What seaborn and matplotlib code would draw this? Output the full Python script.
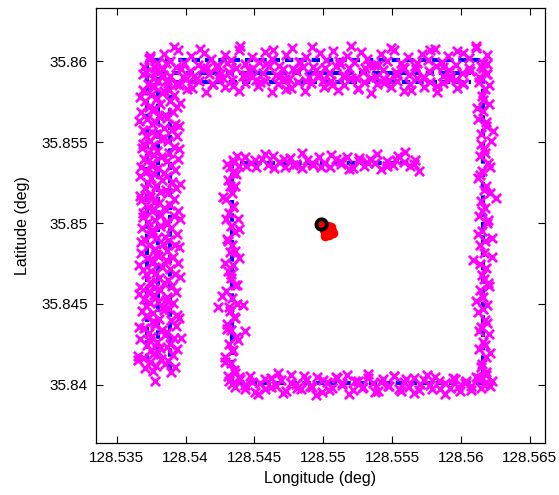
import matplotlib
matplotlib.use("Agg")
import matplotlib.pyplot as plt
import seaborn as sns
import pandas as pd

# ---------------- data ----------------
# reference (true) track, three laps
lap1_lon = [128.5372, 128.5372, 128.5616, 128.5616, 128.5434, 128.5434, 128.5567]
lap1_lat = [35.8414, 35.8601, 35.8601, 35.8401, 35.8401, 35.8537, 35.8537]
lap2_lon = [128.5380, 128.5380, 128.5607]
lap2_lat = [35.8420, 35.8593, 35.8593]
lap3_lon = [128.5389, 128.5389, 128.5607]
lap3_lat = [35.8409, 35.8587, 35.8587]

# estimated positions (magenta x)
left1_lat = [35.84102, 35.84141, 35.84168, 35.84215, 35.84247, 35.84281, 35.84322, 35.84349, 35.84395, 35.84428,
             35.84457, 35.84503, 35.84531, 35.84574, 35.84606, 35.84638, 35.84684, 35.84712, 35.84751, 35.84787,
             35.84815, 35.84862, 35.84893, 35.84925, 35.84969, 35.85004, 35.85037, 35.85073, 35.85109, 35.85142,
             35.85181, 35.85216, 35.85248, 35.85292, 35.85323, 35.85357, 35.85398, 35.85431, 35.85467, 35.85505,
             35.85538, 35.85574, 35.85612, 35.85643, 35.85686, 35.85718, 35.85752, 35.85791, 35.85824, 35.85863,
             35.85897, 35.85934, 35.85968, 35.86012]
left1_lon = [128.53706, 128.53741, 128.53689, 128.53752, 128.53718, 128.53671, 128.53733, 128.53698, 128.53762, 128.53715,
             128.53684, 128.53745, 128.53702, 128.53728, 128.53667, 128.53739, 128.53711, 128.53694, 128.53756, 128.53722,
             128.53679, 128.53736, 128.53709, 128.53748, 128.53687, 128.53725, 128.53693, 128.53758, 128.53714, 128.53676,
             128.53741, 128.53703, 128.53731, 128.53668, 128.53719, 128.53751, 128.53697, 128.53726, 128.53682, 128.53744,
             128.53712, 128.53689, 128.53757, 128.53721, 128.53674, 128.53738, 128.53705, 128.53746, 128.53692, 128.53729,
             128.53761, 128.53716, 128.53699, 128.53734]
left2_lat = [35.84119, 35.84157, 35.84193, 35.84226, 35.84264, 35.84297, 35.84338, 35.84371, 35.84404, 35.84446,
             35.84478, 35.84512, 35.84553, 35.84586, 35.84621, 35.84659, 35.84692, 35.84731, 35.84765, 35.84798,
             35.84839, 35.84872, 35.84907, 35.84946, 35.84979, 35.85016, 35.85052, 35.85087, 35.85124, 35.85159,
             35.85193, 35.85232, 35.85265, 35.85303, 35.85338, 35.85374, 35.85411, 35.85446, 35.85482, 35.85519,
             35.85553, 35.85591, 35.85627, 35.85662, 35.85699, 35.85734, 35.85771, 35.85806, 35.85842, 35.85879,
             35.85913, 35.85941]
left2_lon = [128.53784, 128.53821, 128.53767, 128.53815, 128.53792, 128.53748, 128.53826, 128.53779, 128.53805, 128.53761,
             128.53834, 128.53797, 128.53772, 128.53818, 128.53751, 128.53809, 128.53786, 128.53829, 128.53763, 128.53801,
             128.53775, 128.53838, 128.53794, 128.53756, 128.53812, 128.53781, 128.53823, 128.53769, 128.53807, 128.53745,
             128.53816, 128.53789, 128.53831, 128.53773, 128.53802, 128.53758, 128.53825, 128.53796, 128.53766, 128.53819,
             128.53783, 128.53841, 128.53777, 128.53808, 128.53754, 128.53813, 128.53791, 128.53827, 128.53768, 128.53803,
             128.53834, 128.53786]
left3_lat = [35.84076, 35.84112, 35.84148, 35.84183, 35.84221, 35.84254, 35.84292, 35.84327, 35.84361, 35.84399,
             35.84434, 35.84468, 35.84507, 35.84541, 35.84576, 35.84613, 35.84648, 35.84684, 35.84719, 35.84756,
             35.84791, 35.84827, 35.84862, 35.84898, 35.84934, 35.84969, 35.85006, 35.85041, 35.85077, 35.85112,
             35.85149, 35.85184, 35.85219, 35.85256, 35.85291, 35.85327, 35.85362, 35.85399, 35.85434, 35.85469,
             35.85506, 35.85541, 35.85577, 35.85612, 35.85648, 35.85684, 35.85719, 35.85754, 35.85791, 35.85826,
             35.85862, 35.84022, 35.84156, 35.84290]
left3_lon = [128.53891, 128.53924, 128.53872, 128.53908, 128.53936, 128.53884, 128.53917, 128.53863, 128.53929, 128.53897,
             128.53941, 128.53879, 128.53912, 128.53868, 128.53933, 128.53902, 128.53875, 128.53926, 128.53889, 128.53947,
             128.53906, 128.53869, 128.53921, 128.53883, 128.53938, 128.53898, 128.53861, 128.53915, 128.53943, 128.53887,
             128.53919, 128.53874, 128.53931, 128.53903, 128.53866, 128.53927, 128.53892, 128.53945, 128.53881, 128.53913,
             128.53871, 128.53935, 128.53899, 128.53923, 128.53864, 128.53909, 128.53939, 128.53885, 128.53918, 128.53877,
             128.53929, 128.53776, 128.53653, 128.53965]
left4_lat = [35.84085, 35.84131, 35.84177, 35.84204, 35.84236, 35.84272, 35.84308, 35.84357, 35.84383, 35.84412,
             35.84465, 35.84489, 35.84522, 35.84561, 35.84597, 35.84627, 35.84669, 35.84703, 35.84742, 35.84773,
             35.84807, 35.84851, 35.84884, 35.84914, 35.84957, 35.84992, 35.85024, 35.85061, 35.85096, 35.85131,
             35.85168, 35.85205, 35.85239, 35.85276, 35.85311, 35.85346, 35.85386, 35.85421, 35.85455, 35.85492,
             35.85527, 35.85563, 35.85598, 35.85633, 35.85671, 35.85706, 35.85742, 35.85779, 35.85814, 35.85851,
             35.85886, 35.85921, 35.85957, 35.85992, 35.86031]
left4_lon = [128.53765, 128.53852, 128.53655, 128.53798, 128.53868, 128.53741, 128.53852, 128.53664, 128.53779, 128.53951,
             128.53843, 128.53712, 128.53857, 128.53665, 128.53768, 128.53846, 128.53958, 128.53752, 128.53661, 128.53859,
             128.53787, 128.53949, 128.53675, 128.53849, 128.53756, 128.53862, 128.53958, 128.53694, 128.53843, 128.53772,
             128.53669, 128.53855, 128.53962, 128.53748, 128.53841, 128.53679, 128.53863, 128.53771, 128.53954, 128.53689,
             128.53847, 128.53758, 128.53951, 128.53663, 128.53852, 128.53778, 128.53957, 128.53671, 128.53846, 128.53763,
             128.53866, 128.53691, 128.53782, 128.53855, 128.53742]
top1_lon = [128.53745, 128.53792, 128.53841, 128.53889, 128.53942, 128.53988, 128.54037, 128.54089, 128.54136, 128.54185,
            128.54238, 128.54284, 128.54333, 128.54386, 128.54432, 128.54481, 128.54534, 128.54579, 128.54628, 128.54682,
            128.54727, 128.54776, 128.54829, 128.54874, 128.54925, 128.54977, 128.55022, 128.55073, 128.55124, 128.55169,
            128.55221, 128.55273, 128.55318, 128.55369, 128.55421, 128.55465, 128.55517, 128.55568, 128.55614, 128.55665,
            128.55716, 128.55761, 128.55813, 128.55864, 128.55909, 128.55961, 128.56012, 128.56057, 128.56109, 128.56158,
            128.56192]
top1_lat = [35.86021, 35.85987, 35.86046, 35.86003, 35.86068, 35.85992, 35.86035, 35.85978, 35.86052, 35.86014,
            35.85969, 35.86041, 35.86007, 35.86073, 35.85984, 35.86028, 35.85995, 35.86057, 35.86012, 35.85973,
            35.86039, 35.86081, 35.85998, 35.86024, 35.85966, 35.86049, 35.86009, 35.86063, 35.85981, 35.86032,
            35.85994, 35.86058, 35.86016, 35.85975, 35.86044, 35.86005, 35.86069, 35.85989, 35.86027, 35.85971,
            35.86048, 35.86011, 35.86076, 35.85996, 35.86034, 35.85979, 35.86053, 35.86019, 35.86084, 35.85991,
            35.86038]
top2_lon = [128.53836, 128.53884, 128.53933, 128.53981, 128.54029, 128.54078, 128.54126, 128.54174, 128.54223, 128.54271,
            128.54319, 128.54368, 128.54416, 128.54464, 128.54513, 128.54561, 128.54609, 128.54658, 128.54706, 128.54754,
            128.54803, 128.54851, 128.54899, 128.54948, 128.54996, 128.55044, 128.55093, 128.55141, 128.55189, 128.55238,
            128.55286, 128.55334, 128.55383, 128.55431, 128.55479, 128.55528, 128.55576, 128.55624, 128.55673, 128.55721,
            128.55769, 128.55818, 128.55866, 128.55914, 128.55963, 128.56011, 128.56059]
top2_lat = [35.85951, 35.85912, 35.85967, 35.85903, 35.85942, 35.85889, 35.85958, 35.85921, 35.85974, 35.85897,
            35.85936, 35.85962, 35.85908, 35.85947, 35.85884, 35.85929, 35.85971, 35.85915, 35.85953, 35.85893,
            35.85938, 35.85966, 35.85902, 35.85944, 35.85881, 35.85927, 35.85969, 35.85911, 35.85956, 35.85895,
            35.85934, 35.85976, 35.85906, 35.85949, 35.85887, 35.85932, 35.85964, 35.85918, 35.85955, 35.85899,
            35.85941, 35.85972, 35.85909, 35.85946, 35.85886, 35.85925, 35.85961]
top3_lon = [128.53954, 128.54003, 128.54049, 128.54097, 128.54146, 128.54194, 128.54241, 128.54289, 128.54338, 128.54386,
            128.54433, 128.54481, 128.54529, 128.54578, 128.54625, 128.54673, 128.54721, 128.54769, 128.54817, 128.54865,
            128.54913, 128.54961, 128.55009, 128.55057, 128.55105, 128.55153, 128.55201, 128.55249, 128.55297, 128.55345,
            128.55393, 128.55441, 128.55489, 128.55537, 128.55585, 128.55633, 128.55681, 128.55729, 128.55777, 128.55825,
            128.55873, 128.55921, 128.55969, 128.56017]
top3_lat = [35.85851, 35.85893, 35.85834, 35.85876, 35.85812, 35.85862, 35.85899, 35.85841, 35.85883, 35.85819,
            35.85867, 35.85906, 35.85846, 35.85879, 35.85808, 35.85858, 35.85891, 35.85837, 35.85874, 35.85815,
            35.85864, 35.85902, 35.85843, 35.85881, 35.85821, 35.85856, 35.85896, 35.85832, 35.85871, 35.85806,
            35.85861, 35.85889, 35.85839, 35.85877, 35.85817, 35.85859, 35.85898, 35.85844, 35.85873, 35.85811,
            35.85866, 35.85894, 35.85836, 35.85869]
top4_lon = [128.53781, 128.53826, 128.53874, 128.53917, 128.53965, 128.54012, 128.54061, 128.54108, 128.54157, 128.54203,
            128.54252, 128.54299, 128.54347, 128.54395, 128.54442, 128.54491, 128.54538, 128.54586, 128.54633, 128.54681,
            128.54729, 128.54777, 128.54824, 128.54872, 128.54919, 128.54967, 128.55015, 128.55062, 128.55111, 128.55158,
            128.55205, 128.55253, 128.55301, 128.55348, 128.55396, 128.55444, 128.55491, 128.55539, 128.55587, 128.55634,
            128.55682, 128.55729, 128.55777, 128.55825, 128.55873, 128.55921, 128.55968, 128.56016, 128.56063, 128.56111,
            128.56148, 128.56183]
top4_lat = [35.85968, 35.85902, 35.85869, 35.86088, 35.85951, 35.85827, 35.85912, 35.86079, 35.85958, 35.85861,
            35.85924, 35.85992, 35.85847, 35.86093, 35.85917, 35.85961, 35.85872, 35.85983, 35.86072, 35.85904,
            35.85829, 35.85951, 35.85994, 35.85876, 35.86089, 35.85919, 35.85962, 35.85852, 35.86001, 35.85907,
            35.86095, 35.85836, 35.85956, 35.85897, 35.85975, 35.85864, 35.86082, 35.85916, 35.85959, 35.85824,
            35.85988, 35.85903, 35.86071, 35.85849, 35.85966, 35.85912, 35.86064, 35.85857, 35.85943, 35.86098,
            35.85972, 35.85919]
right_lat = [35.85962, 35.85921, 35.85874, 35.85829, 35.85783, 35.85736, 35.85692, 35.85645, 35.85598, 35.85553,
             35.85506, 35.85461, 35.85414, 35.85369, 35.85322, 35.85276, 35.85231, 35.85184, 35.85139, 35.85092,
             35.85046, 35.85001, 35.84954, 35.84908, 35.84863, 35.84816, 35.84771, 35.84724, 35.84679, 35.84632,
             35.84586, 35.84541, 35.84494, 35.84448, 35.84403, 35.84356, 35.84311, 35.84264, 35.84219, 35.84172,
             35.84126, 35.84081, 35.84042]
right_lon = [128.56161, 128.56188, 128.56132, 128.56176, 128.56149, 128.56202, 128.56158, 128.56127, 128.56183, 128.56144,
             128.56219, 128.56166, 128.56138, 128.56193, 128.56153, 128.56121, 128.56179, 128.56208, 128.56147, 128.56172,
             128.56129, 128.56186, 128.56155, 128.56224, 128.56141, 128.56169, 128.56084, 128.56181, 128.56151, 128.56197,
             128.56136, 128.56163, 128.56189, 128.56123, 128.56174, 128.56148, 128.56204, 128.56157, 128.56131, 128.56178,
             128.56152, 128.56185, 128.56143]
right2_lat = [35.85983, 35.85902, 35.85851, 35.85762, 35.85714, 35.85628, 35.85571, 35.85489, 35.85436, 35.85347,
              35.85298, 35.85207, 35.85158, 35.85073, 35.85018, 35.84931, 35.84887, 35.84793, 35.84748, 35.84657,
              35.84609, 35.84521, 35.84469, 35.84382, 35.84331, 35.84243, 35.84194, 35.84108, 35.84061, 35.84025]
right2_lon = [128.56192, 128.56128, 128.56207, 128.56159, 128.56118, 128.56183, 128.56235, 128.56142, 128.56176, 128.56211,
              128.56135, 128.56168, 128.56252, 128.56149, 128.56195, 128.56121, 128.56173, 128.56226, 128.56138, 128.56164,
              128.56201, 128.56112, 128.56157, 128.56189, 128.56133, 128.56171, 128.56214, 128.56145, 128.56181, 128.56228]
bot_lon = [128.54318, 128.54357, 128.54392, 128.54431, 128.54468, 128.54504, 128.54543, 128.54579, 128.54617, 128.54654,
           128.54691, 128.54729, 128.54766, 128.54803, 128.54841, 128.54878, 128.54915, 128.54953, 128.54989, 128.55027,
           128.55064, 128.55101, 128.55139, 128.55176, 128.55213, 128.55251, 128.55288, 128.55325, 128.55363, 128.55399,
           128.55437, 128.55474, 128.55511, 128.55549, 128.55586, 128.55623, 128.55661, 128.55697, 128.55735, 128.55772,
           128.55809, 128.55847, 128.55884, 128.55921, 128.55959, 128.55995, 128.56033, 128.56071, 128.56108, 128.56146,
           128.56183, 128.56211]
bot_lat = [35.84021, 35.83984, 35.84037, 35.83996, 35.84052, 35.83958, 35.84012, 35.83977, 35.84043, 35.83991,
           35.84027, 35.83962, 35.84058, 35.84003, 35.83971, 35.84031, 35.83989, 35.84047, 35.83954, 35.84016,
           35.83981, 35.84039, 35.83998, 35.84061, 35.83967, 35.84024, 35.83986, 35.84044, 35.84008, 35.83961,
           35.84033, 35.83993, 35.84054, 35.83975, 35.84019, 35.83988, 35.84041, 35.83965, 35.84028, 35.83999,
           35.84049, 35.83972, 35.84014, 35.83983, 35.84036, 35.83959, 35.84025, 35.83994, 35.84046, 35.83978,
           35.84018, 35.83992]
bot2_lon = [128.54338, 128.54386, 128.54429, 128.54481, 128.54523, 128.54575, 128.54618, 128.54669, 128.54711, 128.54764,
            128.54806, 128.54858, 128.54901, 128.54947, 128.54998, 128.55041, 128.55093, 128.55135, 128.55187, 128.55229,
            128.55281, 128.55323, 128.55374, 128.55416, 128.55468, 128.55511, 128.55562, 128.55604, 128.55656, 128.55699,
            128.55751, 128.55793, 128.55844, 128.55887, 128.55939, 128.55981, 128.56032, 128.56074, 128.56126, 128.56169]
bot2_lat = [35.84003, 35.84048, 35.83972, 35.84019, 35.83941, 35.84036, 35.83987, 35.84071, 35.83951, 35.84012,
            35.83979, 35.84055, 35.83994, 35.83938, 35.84029, 35.83966, 35.84046, 35.84009, 35.83945, 35.84024,
            35.83983, 35.84068, 35.83957, 35.84015, 35.83991, 35.84052, 35.83963, 35.84034, 35.83948, 35.84006,
            35.84059, 35.83976, 35.84021, 35.83942, 35.84039, 35.83985, 35.84011, 35.83969, 35.84044, 35.83997]
inl_lat = [35.84052, 35.84091, 35.84133, 35.84172, 35.84214, 35.84253, 35.84294, 35.84336, 35.84375, 35.84417,
           35.84456, 35.84498, 35.84537, 35.84579, 35.84618, 35.84659, 35.84701, 35.84739, 35.84781, 35.84822,
           35.84862, 35.84903, 35.84944, 35.84984, 35.85026, 35.85065, 35.85107, 35.85146, 35.85188, 35.85227,
           35.85269, 35.85308, 35.85349, 35.85378, 35.84478, 35.84330, 35.84496]
inl_lon = [128.54311, 128.54353, 128.54327, 128.54286, 128.54344, 128.54319, 128.54367, 128.54333, 128.54302, 128.54350,
           128.54324, 128.54377, 128.54337, 128.54296, 128.54359, 128.54330, 128.54312, 128.54346, 128.54391, 128.54323,
           128.54341, 128.54304, 128.54356, 128.54332, 128.54379, 128.54317, 128.54348, 128.54293, 128.54336, 128.54362,
           128.54308, 128.54343, 128.54321, 128.54354, 128.54234, 128.54430, 128.54416]
inl2_lat = [35.84071, 35.84143, 35.84206, 35.84278, 35.84347, 35.84411, 35.84482, 35.84551, 35.84617, 35.84688,
            35.84752, 35.84826, 35.84889, 35.84961, 35.85028, 35.85097, 35.85163, 35.85232, 35.85301, 35.85364]
inl2_lon = [128.54362, 128.54287, 128.54341, 128.54379, 128.54298, 128.54356, 128.54318, 128.54265, 128.54372, 128.54331,
            128.54283, 128.54358, 128.54309, 128.54387, 128.54293, 128.54346, 128.54274, 128.54325, 128.54368, 128.54302]
int_lon = [128.54348, 128.54389, 128.54431, 128.54472, 128.54513, 128.54554, 128.54596, 128.54637, 128.54678, 128.54719,
           128.54761, 128.54802, 128.54843, 128.54884, 128.54926, 128.54967, 128.55008, 128.55049, 128.55091, 128.55132,
           128.55173, 128.55214, 128.55256, 128.55297, 128.55338, 128.55379, 128.55421, 128.55462, 128.55503, 128.55544,
           128.55586, 128.55627, 128.55668, 128.55694]
int_lat = [35.85391, 35.85352, 35.85408, 35.85369, 35.85344, 35.85397, 35.85361, 35.85415, 35.85376, 35.85348,
           35.85402, 35.85366, 35.85339, 35.85389, 35.85357, 35.85411, 35.85372, 35.85346, 35.85394, 35.85364,
           35.85406, 35.85341, 35.85382, 35.85355, 35.85399, 35.85371, 35.85337, 35.85386, 35.85359, 35.85413,
           35.85378, 35.85351, 35.85392, 35.85325]
int2_lon = [128.54371, 128.54442, 128.54508, 128.54577, 128.54646, 128.54712, 128.54783, 128.54849, 128.54918, 128.54987,
            128.55053, 128.55124, 128.55189, 128.55258, 128.55327, 128.55393, 128.55462, 128.55531, 128.55597, 128.55662]
int2_lat = [35.85412, 35.85356, 35.85389, 35.85427, 35.85341, 35.85398, 35.85362, 35.85431, 35.85374, 35.85347,
            35.85418, 35.85383, 35.85336, 35.85405, 35.85369, 35.85428, 35.85352, 35.85391, 35.85438, 35.85366]

# red estimates around the start point and black start marker
red_lon = [128.54990, 128.55012, 128.55035, 128.55051, 128.55024, 128.55046, 128.55008, 128.55039,
           128.55061, 128.55019, 128.55031, 128.55055, 128.55002, 128.55044, 128.55027, 128.55068, 128.55015]
red_lat = [35.84991, 35.84972, 35.84981, 35.84964, 35.84948, 35.84943, 35.84957, 35.84928,
           35.84952, 35.84935, 35.84962, 35.84976, 35.84968, 35.84957, 35.84945, 35.84938, 35.84921]
start_lon = [128.54988]
start_lat = [35.84991]

x_ticks = [128.535, 128.54, 128.545, 128.55, 128.555, 128.56, 128.565]
x_ticklabels = ["128.535", "128.54", "128.545", "128.55", "128.555", "128.56", "128.565"]
y_ticks = [35.84, 35.845, 35.85, 35.855, 35.86]
y_ticklabels = ["35.84", "35.845", "35.85", "35.855", "35.86"]

# ---------------- plot ----------------
sns.set_theme(style="white")
plt.rcParams['font.family'] = ['Liberation Sans', 'DejaVu Sans']

fig = plt.figure(figsize=(5.59, 4.95), dpi=100)
ax = fig.add_axes([96 / 559, 52 / 495, 449 / 559, 435 / 495])

pairs = []
for lo, la in [(left1_lon, left1_lat), (left2_lon, left2_lat), (left3_lon, left3_lat), (left4_lon, left4_lat),
               (top1_lon, top1_lat), (top2_lon, top2_lat), (top3_lon, top3_lat), (top4_lon, top4_lat),
               (right_lon, right_lat), (right2_lon, right2_lat), (bot_lon, bot_lat), (bot2_lon, bot2_lat),
               (inl_lon, inl_lat), (inl2_lon, inl2_lat), (int_lon, int_lat), (int2_lon, int2_lat)]:
    pairs.extend(zip(lo, la))
mag = pd.DataFrame(pairs, columns=["lon", "lat"])

for lo, la in [(lap1_lon, lap1_lat), (lap2_lon, lap2_lat), (lap3_lon, lap3_lat)]:
    sns.lineplot(x=lo, y=la, sort=False, estimator=None, ax=ax, color='#0000ff',
                 linewidth=3.0, linestyle=(0, (2.0, 1.2)), zorder=2)

sns.scatterplot(data=mag, x="lon", y="lat", marker='x', color='#ff00ff', s=44,
                linewidth=2.0, ax=ax, zorder=3)

sns.scatterplot(x=red_lon, y=red_lat, marker='o', color='#ff0000', s=48,
                linewidth=0, ax=ax, zorder=5)
sns.scatterplot(x=start_lon, y=start_lat, marker='o', facecolor='none', edgecolor='black',
                s=55, linewidth=2.8, ax=ax, zorder=6)

ax.set_xlim(128.5335, 128.5661)
ax.set_ylim(35.8364, 35.8633)
ax.set_xticks(x_ticks)
ax.set_xticklabels(x_ticklabels)
ax.set_yticks(y_ticks)
ax.set_yticklabels(y_ticklabels)
ax.tick_params(direction='in', length=5, width=0.8, colors='black', labelsize=11,
               top=True, right=True, bottom=True, left=True, pad=6)
for s in ax.spines.values():
    s.set_color('black')
    s.set_linewidth(0.9)
ax.set_xlabel("Longitude (deg)", fontsize=11.5, color='black', labelpad=4)
ax.set_ylabel("Latitude (deg)", fontsize=11.5, color='black', labelpad=8)
ax.grid(False)

fig.savefig("out.png", dpi=100)
